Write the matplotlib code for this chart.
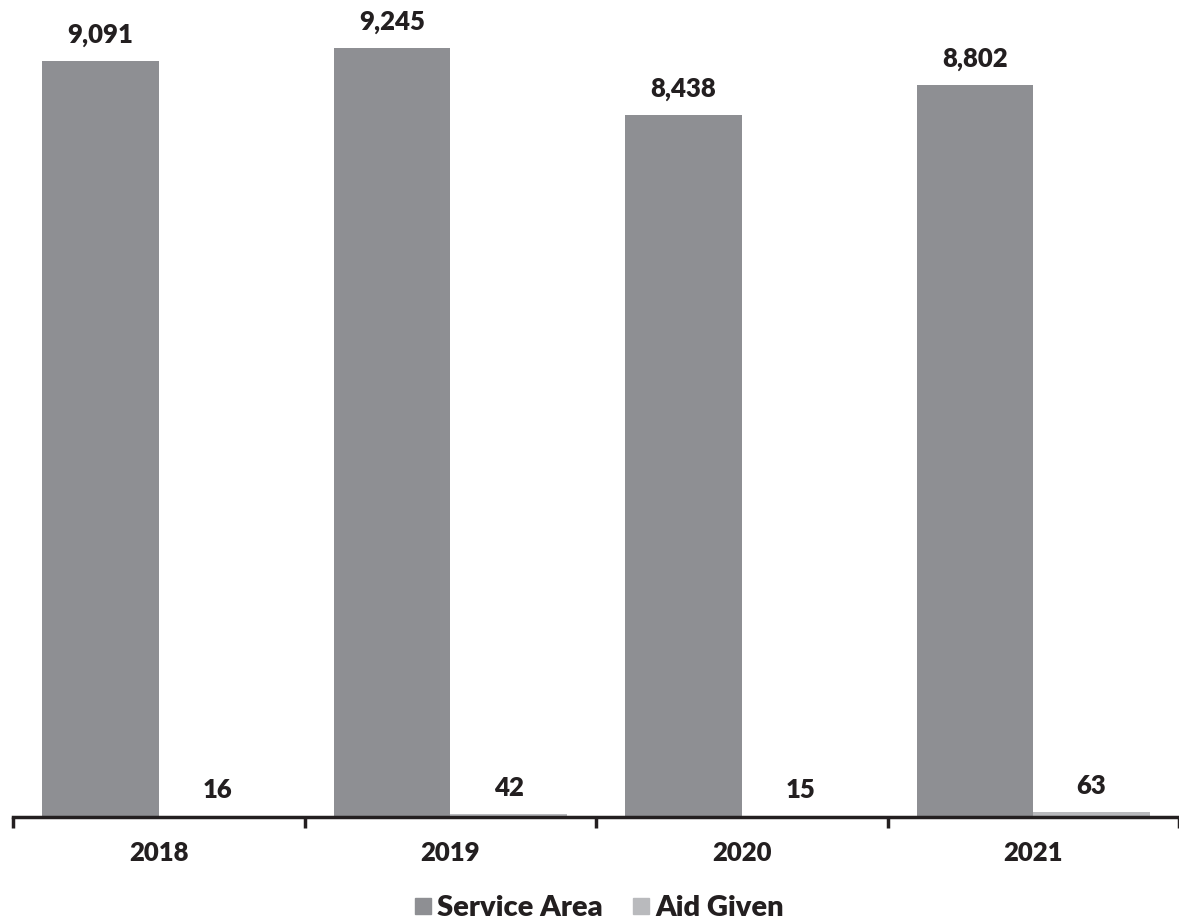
import matplotlib
matplotlib.use("Agg")
import matplotlib.pyplot as plt
from matplotlib.lines import Line2D
import numpy as np

years = ["2018", "2019", "2020", "2021"]
service_area = [9091, 9245, 8438, 8802]
aid_given = [16, 42, 15, 63]

c_service = "#8e8f93"
c_aid = "#b9babd"
txt = "#231f20"

plt.rcParams['font.family'] = ['Lato', 'DejaVu Sans']

fig = plt.figure(figsize=(11.79, 9.21), dpi=100)
ax = fig.add_axes([13/1179, 104/921, 1 - 13/1179, 1 - 104/921])

x = np.arange(len(years))
w = 0.4
b1 = ax.bar(x - w/2, service_area, w, color=c_service, label="Service Area")
b2 = ax.bar(x + w/2, aid_given, w, color=c_aid, label="Aid Given")

for bars, vals in ((b1, service_area), (b2, aid_given)):
    for r, v in zip(bars, vals):
        ax.annotate(f"{v:,}", (r.get_x() + r.get_width()/2, r.get_height()),
                    xytext=(0, 10), textcoords="offset points", ha="center", va="bottom",
                    fontsize=18.5, fontweight="heavy", color=txt)

ax.set_xlim(-0.5, len(years) - 0.5)
ax.set_ylim(0, 9824)
ax.set_yticks([])
for s in ("top", "right", "left"):
    ax.spines[s].set_visible(False)
ax.spines["bottom"].set_linewidth(2.5)
ax.spines["bottom"].set_color(txt)

ax.set_xticks(x)
ax.set_xticklabels(years, fontsize=18.5, fontweight="heavy", color=txt)
ax.tick_params(axis="x", which="major", length=0, pad=17)
ax.set_xticks(np.arange(-0.5, len(years)), minor=True)
ax.tick_params(axis="x", which="minor", length=8, width=2.5, color=txt, direction="out")

handles = [Line2D([], [], marker="s", linestyle="none", markersize=11, color=c_service),
           Line2D([], [], marker="s", linestyle="none", markersize=11, color=c_aid)]
fig.legend(handles, ["Service Area", "Aid Given"], loc="center", bbox_to_anchor=(0.508, 0.014),
           ncol=2, frameon=False, handletextpad=0.2, columnspacing=1.0,
           prop={"size": 21, "weight": "heavy"}, labelcolor=txt, handlelength=0.6)

fig.savefig("out.png", dpi=100)
